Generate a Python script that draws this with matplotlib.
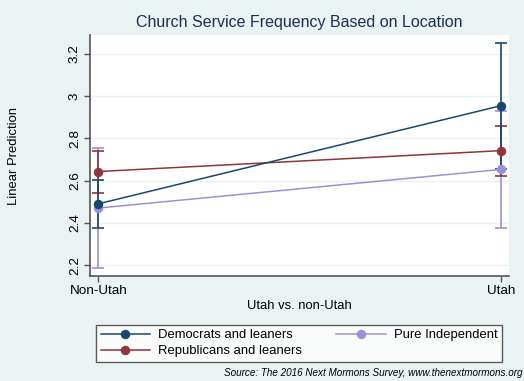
import numpy as np
import matplotlib.pyplot as plt

locations = ["Non-Utah", "Utah"]
groups = ["Democrats and leaners", "Republicans and leaners", "Pure Independent"]
means = {
    "Democrats and leaners": [2.49, 2.955],
    "Republicans and leaners": [2.643, 2.742],
    "Pure Independent": [2.47, 2.653],
}
lower = {
    "Democrats and leaners": [2.375, 2.657],
    "Republicans and leaners": [2.543, 2.623],
    "Pure Independent": [2.187, 2.377],
}
upper = {
    "Democrats and leaners": [2.604, 3.251],
    "Republicans and leaners": [2.742, 2.86],
    "Pure Independent": [2.756, 2.928],
}
colors = {
    "Democrats and leaners": "#1a476f",
    "Republicans and leaners": "#90353b",
    "Pure Independent": "#9c8fdb",
}
yticks = [2.2, 2.4, 2.6, 2.8, 3.0, 3.2]
yticklabels = ["2.2", "2.4", "2.6", "2.8", "3", "3.2"]

bg = "#eaf2f3"
plt.rcParams['font.family'] = ['Liberation Sans', 'DejaVu Sans']
fs = 9.4

fig = plt.figure(figsize=(5.24, 3.81), dpi=100, facecolor=bg)
ax = fig.add_axes([90/524, 1-276/381, 419/524, 241/381])
ax.set_facecolor("white")

x = np.arange(len(locations))
handles = []
# independents first so dem/rep sit on top
for g in ["Pure Independent", "Republicans and leaners", "Democrats and leaners"]:
    m = np.array(means[g])
    err = np.array([m - np.array(lower[g]), np.array(upper[g]) - m])
    ax.errorbar(x, m, yerr=err, fmt="none", ecolor=colors[g], elinewidth=1.2,
                capsize=4, capthick=1.2, zorder=2)
    h, = ax.plot(x, m, color=colors[g], lw=1.1, marker="o", markersize=5.8, zorder=3,
                 label=g)
    handles.append(h)

ax.set_xlim(-0.0206, 1.02)
ax.set_ylim(2.148, 3.29)
ax.set_xticks(x)
ax.set_xticklabels(locations, fontsize=fs + 0.3)
ax.set_yticks(yticks)
ax.set_yticklabels(yticklabels, fontsize=fs + 0.3, rotation=90, va="center")
ax.grid(axis="y", color=bg, lw=1)
ax.set_axisbelow(True)
for s in ["top", "right"]:
    ax.spines[s].set_visible(False)
for s in ["left", "bottom"]:
    ax.spines[s].set_color("#555555")
    ax.spines[s].set_linewidth(1.2)
ax.tick_params(direction="out", length=4, color="#555555", width=1, pad=2.5)

ax.set_xlabel("Utah vs. non-Utah", fontsize=fs, labelpad=2)
ax.yaxis.set_label_coords(-70/419, 0.5)
ax.set_ylabel("Linear Prediction", fontsize=fs)
ax.set_title("Church Service Frequency Based on Location", fontsize=11.5,
             color="#1b2f52", pad=6)

order = [handles[2], handles[1], handles[0]]
leg = fig.legend(order, [h.get_label() for h in order], ncol=2,
                 loc="lower left", mode="expand",
                 bbox_to_anchor=(96/524, 1-362/381, 406/524, 42/381),
                 fontsize=fs, frameon=True, fancybox=False, edgecolor="#333333",
                 handlelength=3.8, handletextpad=0.6, borderpad=0.35,
                 labelspacing=0.3, borderaxespad=0)
leg.get_frame().set_linewidth(1)

fig.text(522/524, 1-373/381, "Source: The 2016 Next Mormons Survey, www.thenextmormons.org",
         ha="right", va="center", fontsize=7.1, style="italic")

plt.savefig("out.png", dpi=100, facecolor=bg)
